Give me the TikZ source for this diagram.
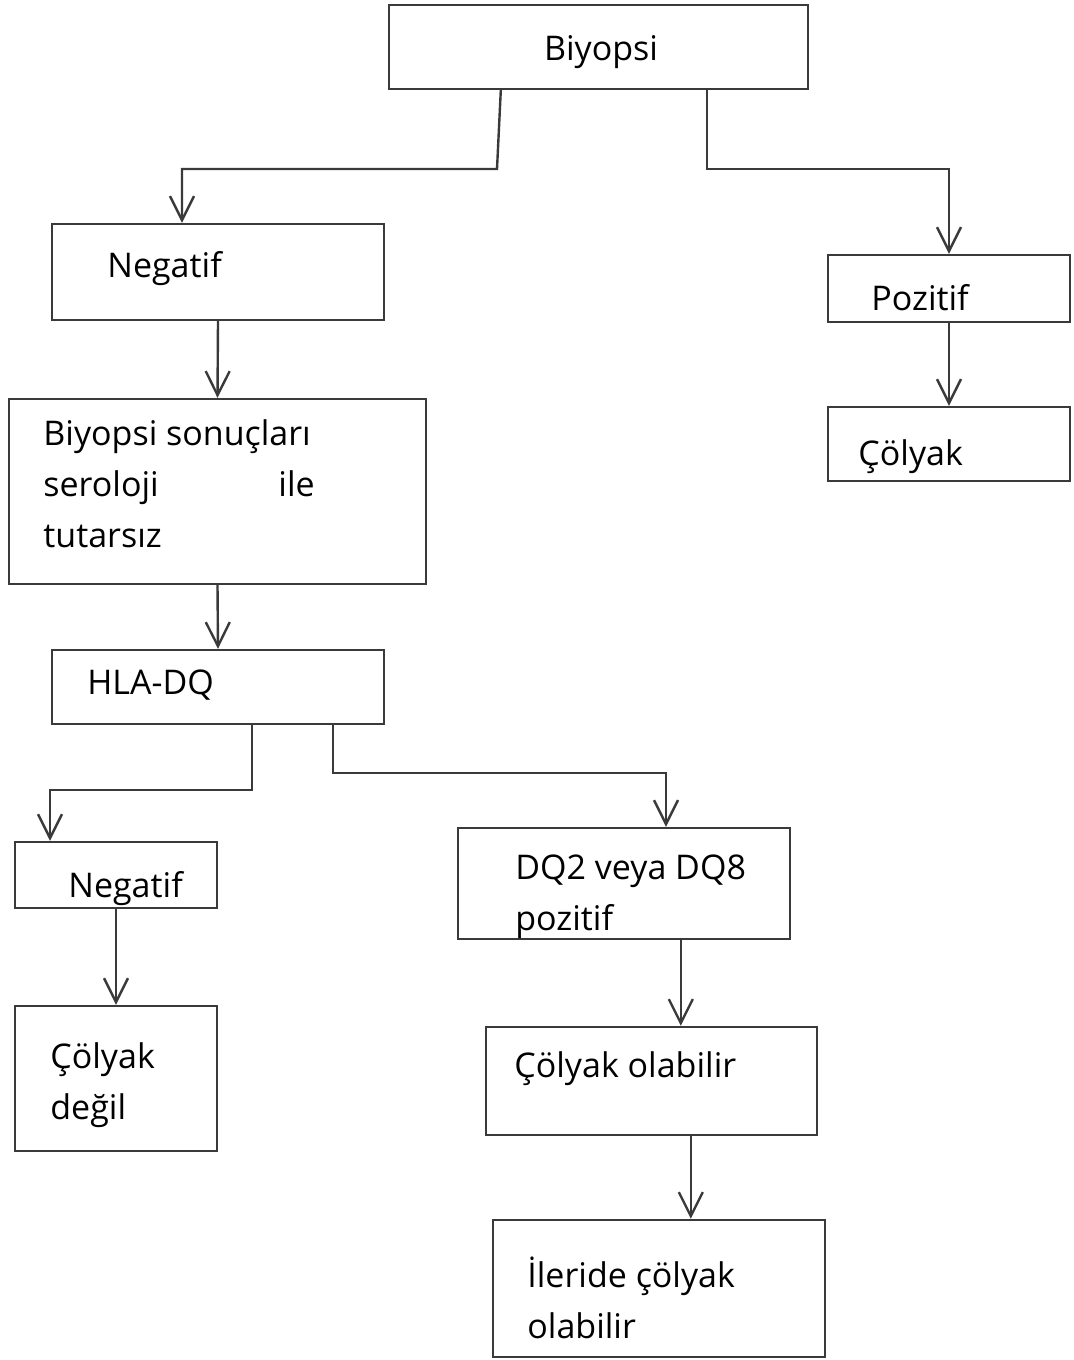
\documentclass[tikz,border=0pt]{standalone}
\usepackage{fontspec}
\setmainfont{Open Sans}
\usetikzlibrary{arrows.meta,fit,calc,positioning}

\definecolor{cizgirengi}{HTML}{3A3A3A}

\tikzset{
  kutu/.style={draw=cizgirengi, line width=1.2pt, inner sep=0pt},
  yazi/.style={anchor=base west, inner sep=0pt, align=left,
    font=\fontsize{17}{25.5}\selectfont},
  ok/.style={draw=cizgirengi, line width=1.2pt,
    -{Straight Barb[length=12pt,width=12pt]}},
}

\begin{document}
\begin{tikzpicture}[x=0.5pt,y=-0.5pt]
  \useasboundingbox (0,0) rectangle (1073,1360);

  %% kutular
  \node[kutu, fit={(389,5) (808,89)}] (bio) {};
  \node[kutu, fit={(52,224) (384,320)}] (neg1) {};
  \node[kutu, fit={(828,255) (1070,322)}] (poz) {};
  \node[kutu, fit={(828,407) (1070,481)}] (cly1) {};
  \node[kutu, fit={(9,399) (426,584)}] (sonuc) {};
  \node[kutu, fit={(52,650) (384,724)}] (hla) {};
  \node[kutu, fit={(15,842) (217,908)}] (neg2) {};
  \node[kutu, fit={(458,828) (790,939)}] (dq) {};
  \node[kutu, fit={(15,1006) (217,1151)}] (degil) {};
  \node[kutu, fit={(486,1027) (817,1135)}] (olab) {};
  \node[kutu, fit={(493,1220) (825,1357)}] (ileri) {};

  %% yazilar (base = son satir)
  \node[yazi, anchor=base] (tbio) at (601,61) {Biyopsi};
  \node[yazi] (tneg1) at (107,277) {Negatif};
  \node[yazi] (tpoz) at (871,310) {Pozitif};
  \node[yazi] (tcly1) at (858,465) {Çölyak};
  \node[yazi] (tsonuc) at (43,547) {Biyopsi sonuçları\\
    \makebox[117.5pt][l]{seroloji}ile\\ tutarsız};
  \node[yazi] (thla) at (87,694) {HLA-DQ};
  \node[yazi] (tneg2) at (68,897) {Negatif};
  \node[yazi] (tdq) at (515,930) {DQ2 veya DQ8\\ pozitif};
  \node[yazi] (tdegil) at (50,1119) {Çölyak\\ değil};
  \node[yazi] (tolab) at (514,1077) {Çölyak olabilir};
  \node[yazi] (tileri) at (527,1338) {İleride çölyak\\ olabilir};

  %% oklar
  \coordinate (k1) at (497,169);
  \coordinate (k2) at (182,169);
  \draw[ok] ($(bio.south west)+(113,0)$) -- (k1) -- (k2) -- (k2 |- neg1.north);
  \coordinate (k3) at (949,169);
  \draw[ok] ($(bio.south west)+(319,0)$) |- (k3) -- (poz.north);
  \draw[ok] (neg1.south) -- (sonuc.north);
  \draw[ok] (poz.south) -- (cly1.north);
  \draw[ok] (sonuc.south) -- (hla.north);
  \coordinate (k4) at (50,790);
  \draw[ok] ($(hla.south west)+(201,0)$) |- (k4) -- (k4 |- neg2.north);
  \coordinate (k5) at (666,773);
  \draw[ok] ($(hla.south west)+(282,0)$) |- (k5) -- (k5 |- dq.north);
  \draw[ok] (neg2.south) -- (degil.north);
  \draw[ok] ($(dq.south west)+(224,0)$) coordinate (k6) -- (k6 |- olab.north);
  \draw[ok] ($(olab.south west)+(206,0)$) coordinate (k7) -- (k7 |- ileri.north);
\end{tikzpicture}
\end{document}
